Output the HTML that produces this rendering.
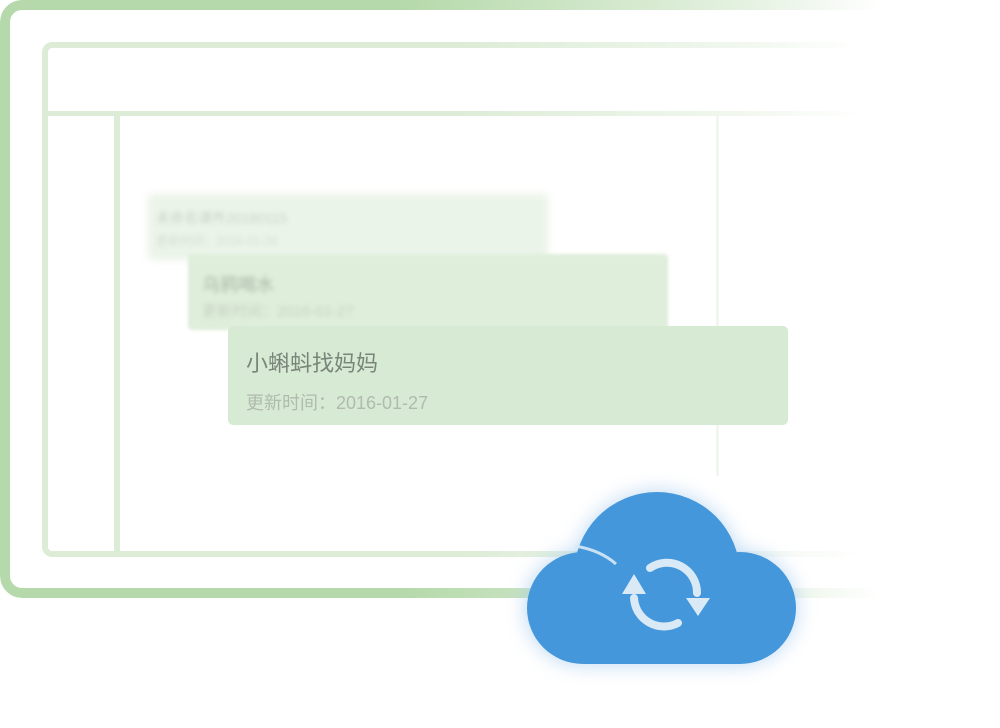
<!DOCTYPE html>
<html><head><meta charset="utf-8"><style>
body{margin:0;width:1000px;height:728px;background:#fff;position:relative;overflow:hidden;font-family:"Liberation Sans","Noto Sans CJK SC",sans-serif}
.a{position:absolute;box-sizing:border-box}
.fade{-webkit-mask-image:linear-gradient(90deg,#000 0%,#000 40%,rgba(0,0,0,.35) 75%,transparent 88%);mask-image:linear-gradient(90deg,#000 0%,#000 40%,rgba(0,0,0,.35) 75%,transparent 88%)}
.fade2{-webkit-mask-image:linear-gradient(90deg,#000 0%,#000 50%,rgba(0,0,0,.4) 85%,transparent 100%);mask-image:linear-gradient(90deg,#000 0%,#000 50%,rgba(0,0,0,.4) 85%,transparent 100%)}
</style></head><body>
<div class="a fade" style="left:0;top:0;width:1000px;height:598px;border:10px solid #b5d9aa;border-radius:22px"></div>
<div class="a fade2" style="left:42px;top:42px;width:820px;height:515px;border:6px solid #dcecd6;border-radius:10px"></div>
<div class="a fade2" style="left:42px;top:111px;width:820px;height:5px;background:#dcecd6"></div>
<div class="a" style="left:114px;top:113px;width:6px;height:442px;background:#dcecd6"></div>
<div class="a" style="left:716px;top:116px;width:3px;height:360px;background:#f1f6ef"></div>

<div class="a" style="left:148px;top:194px;width:400px;height:66px;background:#ebf4e8;filter:blur(4px);border-radius:4px"></div>
<div class="a" style="left:156px;top:208px;font-size:14px;color:#c9d4c6;filter:blur(2px)">未命名课件20160115</div>
<div class="a" style="left:156px;top:232px;font-size:12px;color:#d6dfd3;filter:blur(2px)">更新时间：2016-01-26</div>

<div class="a" style="left:188px;top:254px;width:480px;height:76px;background:#dfeedb;filter:blur(1.5px);border-radius:4px"></div>
<div class="a" style="left:202px;top:271px;font-size:18px;color:#a9b5a6;filter:blur(2px)">乌鸦喝水</div>
<div class="a" style="left:202px;top:300px;font-size:15px;color:#c6d1c3;filter:blur(2px)">更新时间：2016-01-27</div>

<div class="a" style="left:228px;top:326px;width:560px;height:99px;background:#d7ebd4;border-radius:5px"></div>
<div class="a" style="left:246px;top:346px;font-size:22px;color:#7a857a">小蝌蚪找妈妈</div>
<div class="a" style="left:246px;top:389px;font-size:18px;color:#b0bbae">更新时间：2016-01-27</div>

<svg class="a" style="left:0;top:0" width="1000" height="728">
<defs><filter id="g" x="-30%" y="-30%" width="160%" height="160%"><feGaussianBlur stdDeviation="10"/></filter></defs>
<g fill="#a9cdf0" filter="url(#g)" opacity=".8">
<circle cx="657" cy="575" r="83"/><rect x="526" y="552" width="270" height="112" rx="56"/>
</g>
<g fill="#4397da">
<circle cx="657" cy="575" r="83"/>
<circle cx="583" cy="608" r="56"/>
<circle cx="740" cy="608" r="56"/>
<rect x="583" y="570" width="157" height="94"/>
</g>
<path d="M575 546 Q600 550 616 564" stroke="#d9e9f6" stroke-width="3" fill="none" opacity=".9"/>
<g stroke="#d9eaf6" stroke-width="8" fill="none" stroke-linecap="round">
<path d="M650 568 A30 30 0 0 1 697 593"/>
<path d="M678 623 A30 30 0 0 1 634 598"/>
</g>
<g fill="#d9eaf6">
<polygon points="622,594 634,574 646,594"/>
<polygon points="686,598 710,598 698,616"/>
</g>
</svg>
</body></html>
